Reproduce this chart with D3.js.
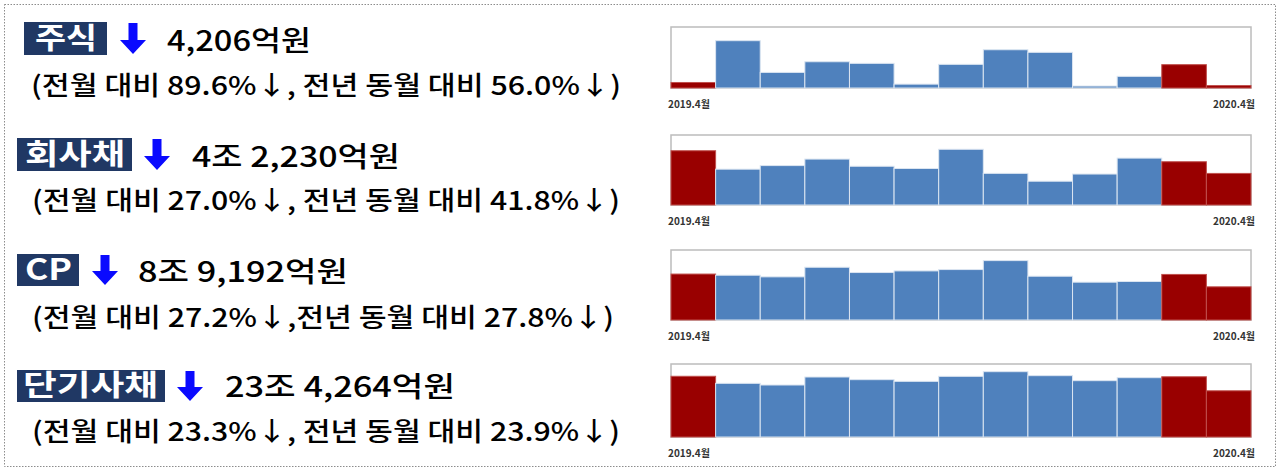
<!DOCTYPE html>
<html><head><meta charset="utf-8">
<script src="https://cdn.jsdelivr.net/npm/d3@7"></script>
<style>
html,body{margin:0;padding:0;background:#fff;}
svg{display:block;}
text{font-family:"Noto Sans CJK KR","Noto Sans",sans-serif;}
</style></head>
<body>
<svg id="c" width="1280" height="471"></svg>
<script>
// ---------- data ----------
const months = ["2019.4","2019.5","2019.6","2019.7","2019.8","2019.9","2019.10","2019.11","2019.12","2020.1","2020.2","2020.3","2020.4"];
const highlighted = ["2019.4","2020.3","2020.4"];
const categories = ["주식","회사채","CP","단기사채"];
const headlines = ["4,206억원","4조 2,230억원","8조 9,192억원","23조 4,264억원"];
const changes = [
  "(전월 대비 89.6%↓, 전년 동월 대비 56.0%↓)",
  "(전월 대비 27.0%↓, 전년 동월 대비 41.8%↓)",
  "(전월 대비 27.2%↓,전년 동월 대비 27.8%↓)",
  "(전월 대비 23.3%↓, 전년 동월 대비 23.9%↓)"
];
// monthly issuance, 억원
const stockValues = [9559, 82000, 27000, 45500, 42700, 6700, 41000, 66300, 61800, 3400, 20200, 40442, 4206];
const bondValues  = [72560, 47900, 52700, 61400, 51800, 48800, 74500, 42300, 31800, 41400, 62700, 57850, 42230];
const cpValues    = [123535, 120400, 116000, 141800, 127600, 132000, 135600, 159700, 117700, 101700, 103500, 122516, 89192];
const stbValues   = [307837, 272100, 263600, 304200, 290700, 282200, 307600, 331200, 311000, 285600, 300800, 305429, 234264];
const seriesValues = [stockValues, bondValues, cpValues, stbValues];
const axisMax = [105700, 93600, 188200, 370100];
const tickLabels = ["2019.4월","2020.4월"];

// ---------- layout ----------
const svg = d3.select("#c");
svg.append("rect").attr("x",4.5).attr("y",4.5).attr("width",1271).attr("height",462)
  .attr("fill","none").attr("stroke","#8c8c8c").attr("stroke-width",1).attr("stroke-dasharray","1.5,1.5");

const panel = [
  {box:[24,22,83,33], lbl:[35,97], arrow:120, val:[167,311], valY:41, sub:[31,621], subY:86, top:27, base:88},
  {box:[17,138,115,33], lbl:[25,125], arrow:144, val:[192,400], valY:157, sub:[32,620], subY:201, top:135, base:205},
  {box:[17,254,62,32], lbl:[25,72], arrow:92, val:[138,348], valY:272, sub:[32,614], subY:318, top:250, base:320},
  {box:[17,370,148,32], lbl:[23,158], arrow:177, val:[225,455], valY:387, sub:[32,620], subY:432, top:364, base:437}
];

const x = d3.scaleBand().domain(months).range([671,1251]).padding(0);

categories.forEach((cat,i)=>{
  const p = panel[i];
  const g = svg.append("g");
  // label box
  g.append("rect").attr("x",p.box[0]).attr("y",p.box[1]).attr("width",p.box[2]).attr("height",p.box[3]).attr("fill","#203864");
  g.append("text").attr("x",p.lbl[0]).attr("y",p.box[1]+p.box[3]/2).attr("dy","0.36em")
    .attr("font-size",29).attr("font-weight",700).attr("fill","#fff")
    .attr("textLength",p.lbl[1]-p.lbl[0]).attr("lengthAdjust","spacingAndGlyphs").text(cat);
  // arrow
  const ax = p.arrow, aw = 26, ay0 = p.box[1]+1, ay1 = p.box[1]+p.box[3]-1;
  const cx = ax+aw/2, sh = 4.5, hy = ay1-14;
  g.append("path").attr("fill","#0a0aff")
    .attr("d",`M${cx-sh},${ay0}L${cx+sh},${ay0}L${cx+sh},${hy}L${ax+aw},${hy}L${cx},${ay1}L${ax},${hy}L${cx-sh},${hy}Z`);
  // headline
  g.append("text").attr("x",p.val[0]).attr("y",p.valY).attr("dy","0.36em")
    .attr("font-size",28).attr("font-weight",500).attr("fill","#000")
    .attr("textLength",p.val[1]-p.val[0]).attr("lengthAdjust","spacingAndGlyphs").text(headlines[i]);
  // sub line
  g.append("text").attr("x",p.sub[0]).attr("y",p.subY).attr("dy","0.36em")
    .attr("font-size",26).attr("font-weight",500).attr("fill","#000")
    .attr("textLength",p.sub[1]-p.sub[0]).attr("lengthAdjust","spacingAndGlyphs").text(changes[i]);

  // mini bar chart
  const y = d3.scaleLinear().domain([0,axisMax[i]]).range([p.base,p.top]);
  const vals = seriesValues[i];
  g.append("rect").attr("x",x.range()[0]).attr("y",p.top).attr("width",x.range()[1]-x.range()[0]).attr("height",p.base-p.top)
    .attr("fill","none").attr("stroke","#bcbcbc").attr("stroke-width",1.5);
  g.selectAll("rect.bar").data(months).join("rect").attr("class","bar")
    .attr("x",d=>x(d)).attr("width",x.bandwidth())
    .attr("y",(d,j)=>y(vals[j])).attr("height",(d,j)=>y(0)-y(vals[j]))
    .attr("fill",d=>highlighted.includes(d)?"#990000":"#4f81bd")
    .attr("stroke",d=>highlighted.includes(d)?"#c0504d":"#dbe5f1").attr("stroke-width",1);
  // tick labels
  g.append("text").attr("x",668).attr("y",p.base+16).attr("dy","0.35em")
    .attr("font-size",10).attr("font-weight",700).attr("fill","#333").text(tickLabels[0]);
  g.append("text").attr("x",1255).attr("y",p.base+16).attr("dy","0.35em").attr("text-anchor","end")
    .attr("font-size",10).attr("font-weight",700).attr("fill","#333").text(tickLabels[1]);
});
</script>
</body></html>
